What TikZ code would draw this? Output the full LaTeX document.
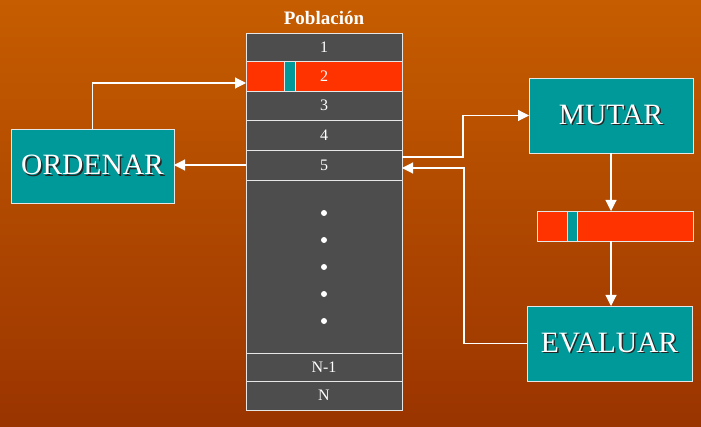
\documentclass[tikz,border=0pt]{standalone}
\usepackage{fontspec}
\setmainfont{Liberation Serif}
\usetikzlibrary{arrows.meta,positioning}
\definecolor{bgtop}{HTML}{C65D00}
\definecolor{bgbot}{HTML}{9A3400}
\definecolor{popgray}{HTML}{4D4D4D}
\definecolor{genred}{HTML}{FF3300}
\definecolor{opteal}{HTML}{009999}
\definecolor{rim}{HTML}{E6E6E6}
\newcommand\shadowed[1]{\makebox[0pt][l]{\hspace{1.5pt}\raisebox{-1.5pt}{\color{black!85}#1}}#1}

\begin{document}
\begin{tikzpicture}
[x=1pt,y=-1pt,
every node/.style={text=white,inner sep=0pt,outer sep=0pt},
row/.style={draw=rim,fill=popgray,line width=0.9pt,minimum width=156pt,anchor=north west,font=\fontsize{16}{16}\selectfont},
opbox/.style={draw=rim,fill=opteal,line width=0.9pt,minimum width=164pt,minimum height=75pt,font=\fontsize{29.5}{29.5}\selectfont},
flow/.style={draw=white,line width=1.1pt,-{Triangle[length=11pt,width=11pt]}}]
\shade[top color=bgtop,bottom color=bgbot] (0,0) rectangle (701,427);
\node[font=\bfseries\fontsize{19}{19}\selectfont] (title) at (324,18) {Población};
% poblacion
\node[row,minimum height=28pt] (r1) at (246,33) {1};
\node[row,minimum height=30pt,fill=genred] (r2) at (246,61) {2};
\draw[rim,fill=opteal,line width=0.9pt] (284,61) rectangle (295,91);
\node[row,minimum height=29pt] (r3) at (246,91) {3};
\node[row,minimum height=30pt] (r4) at (246,120) {4};
\node[row,minimum height=30pt] (r5) at (246,150) {5};
\node[row,minimum height=173pt] (dots) at (246,180) {};
\foreach \y in {213,240,267,294,321}
  \fill[white] (324,\y) circle (3pt);
\node[row,minimum height=28pt] (rN1) at (246,353) {N-1};
\node[row,minimum height=29pt] (rN) at (246,381) {N};
% operadores
\node[opbox,minimum width=163pt,minimum height=74pt] (ordenar) at (92.5,166) {\shadowed{ORDENAR}};
\node[opbox] (mutar) at (611,115.5) {\shadowed{MUTAR}};
\node[opbox,minimum width=165pt] (evaluar) at (609.5,343.5) {\shadowed{EVALUAR}};
\node[draw=rim,fill=genred,line width=0.9pt,minimum width=156pt,minimum height=30pt] (chromo) at (615,226) {};
\draw[rim,fill=opteal,line width=0.9pt] (567,211) rectangle (577,241);
% flechas
\draw[flow] (ordenar.north) |- ([yshift=-7pt]r2.west);
\draw[flow] (r5.west) -- (r5.west -| ordenar.east);
\draw[flow] ([yshift=8pt]r5.east) -- ++(61,0) |- (mutar.west);
\draw[flow] (evaluar.west) -- ++(-63,0) |- ([yshift=-3pt]r5.east);
\draw[flow] (mutar.south) -- (mutar.south |- chromo.north);
\draw[flow] (mutar.south |- chromo.south) -- (mutar.south |- evaluar.north);
\end{tikzpicture}
\end{document}
